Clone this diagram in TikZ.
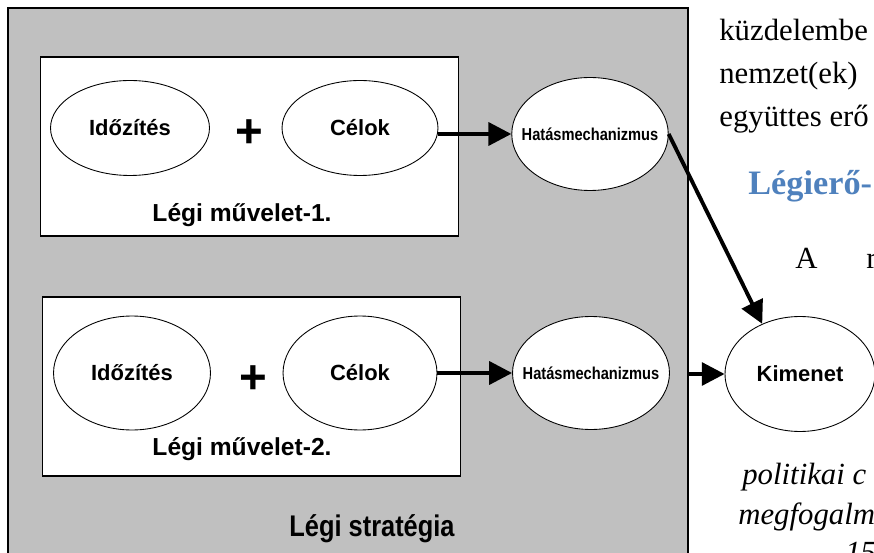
\documentclass[tikz,border=0pt]{standalone}
\usepackage{fontspec}
\setmainfont{Liberation Serif}
\newfontfamily\arialfont{Liberation Sans}
\newfontfamily\narrowfont[FakeStretch=0.85]{Liberation Sans}
\usetikzlibrary{arrows.meta, shapes.geometric}
\definecolor{stratgray}{RGB}{192,192,192}
\definecolor{headblue}{RGB}{79,129,189}

\begin{document}
\begin{tikzpicture}[x=0.02cm, y=-0.02cm]
    \tikzstyle{every node} = [inner sep=0pt]
    \tikzstyle{oval} = [draw, ellipse, fill=white, line width=0.5pt, font=\arialfont\bfseries\fontsize{12.5}{15}\selectfont]
    \tikzstyle{hatas} = [oval, inner xsep=-0.26cm, font=\narrowfont\bfseries\fontsize{9.8}{11}\selectfont]
    \tikzstyle{opbox} = [draw, rectangle, fill=white, line width=0.6pt, minimum width=8.38cm, minimum height=3.58cm]
    \tikzstyle{arr} = [line width=2.2pt, -{Triangle[length=13pt, width=13pt]}]
    \tikzstyle{body} = [anchor=base west, font=\fontsize{17.5}{20}\selectfont]
    \useasboundingbox (0,0) rectangle (874,553);
    \clip (0,0) rectangle (874,553);

    % grey frame of the strategy
    \node (strat) [draw, rectangle, fill=stratgray, line width=0.8pt, minimum width=13.6cm, minimum height=11.84cm] at (348, 304) {};
    \node [font=\narrowfont\bfseries\fontsize{17}{20}\selectfont] at (372, 529) {Légi stratégia};

    % first operation
    \node (op1) [opbox] at (249.5, 146.5) {};
    \node (tim1) [oval, minimum width=3.18cm, minimum height=1.9cm] at (130, 128) {Időzítés};
    \node (cel1) [oval, minimum width=3.12cm, minimum height=1.9cm] at (360, 128) {Célok};
    \node [font=\arialfont\bfseries\fontsize{27}{30}\selectfont] at (249, 134) {+};
    \node [font=\arialfont\bfseries\fontsize{14}{17}\selectfont] at (242, 215) {Légi művelet-1.};

    % second operation
    \node (op2) [opbox] at (251.5, 386.5) {};
    \node (tim2) [oval, minimum width=3.14cm, minimum height=2.28cm] at (132, 373) {Időzítés};
    \node (cel2) [oval, minimum width=3.08cm, minimum height=2.28cm] at (360, 373) {Célok};
    \node [font=\arialfont\bfseries\fontsize{27}{30}\selectfont] at (253, 380) {+};
    \node [font=\arialfont\bfseries\fontsize{14}{17}\selectfont] at (242, 449) {Légi művelet-2.};

    % effects and outcome
    \node (hm1) [hatas, minimum width=3.12cm, minimum height=2.26cm] at (590, 134) {Hatásmechanizmus};
    \node (hm2) [hatas, minimum width=3.14cm, minimum height=2.26cm] at (591, 373) {Hatásmechanizmus};
    \node (kim) [oval, minimum width=3.0cm, minimum height=2.3cm] at (800, 374) {Kimenet};
    \coordinate (out) at (strat.east |- kim.west);

    \draw [arr] (cel1.east |- hm1.west) -- (hm1.west);
    \draw [arr] (cel2.east) -- (hm2.west);
    \draw [arr] (out) -- (kim.west);
    \draw [arr] (hm1.east) -- (kim.127);

    % running text of the page
    \node [body] at (719, 41) {küzdelembe};
    \node [body] at (719, 84) {nemzet(ek)};
    \node [body] at (719, 127) {együttes erő};
    \node [body, font=\bfseries\fontsize{19.5}{22}\selectfont, text=headblue] at (748, 195) {Légierő-};
    \node [body] at (795, 269) {A};
    \node [body] at (866, 269) {r};
    \node [body, font=\itshape\fontsize{17.5}{20}\selectfont] at (742, 484) {politikai c};
    \node [body, font=\itshape\fontsize{17.5}{20}\selectfont] at (738, 524) {megfogalm};
    \node [body, font=\itshape\fontsize{17.5}{20}\selectfont] at (845, 562) {15};
\end{tikzpicture}
\end{document}
